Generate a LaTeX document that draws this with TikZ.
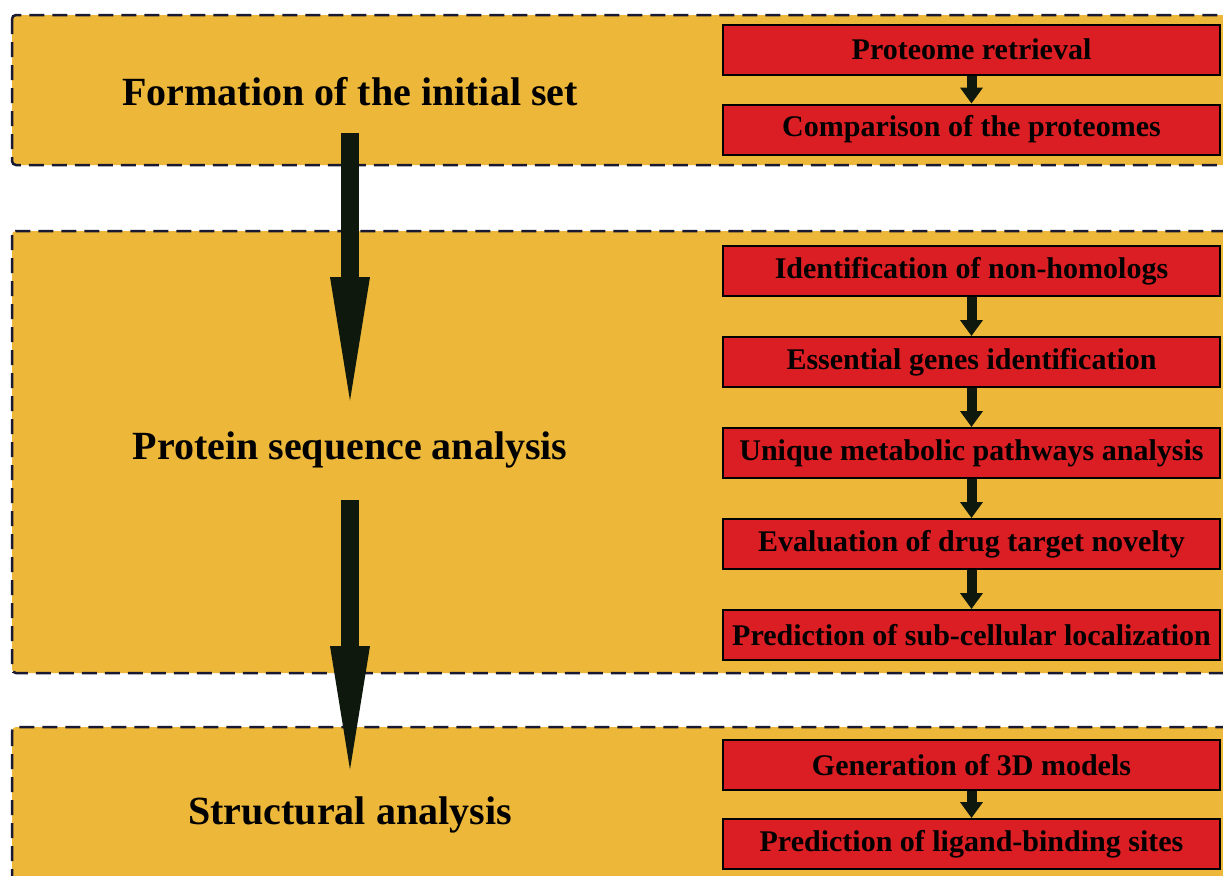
\documentclass[tikz,border=0pt]{standalone}
\usepackage{fontspec}
\setmainfont{Liberation Serif}
\usetikzlibrary{positioning,arrows.meta}
\definecolor{panelgold}{RGB}{237,184,58}
\definecolor{stepred}{RGB}{219,30,35}
\definecolor{arrowdark}{RGB}{14,24,12}
\definecolor{dashnavy}{RGB}{25,25,50}

\begin{document}
\begin{tikzpicture}[x=0.5pt, y=-0.5pt,
        panel/.style={draw=dashnavy, fill=panelgold, line width=1.25pt, dash pattern=on 7.5pt off 4pt, rounded corners=2pt},
        stagetitle/.style={font=\fontsize{20}{24}\selectfont\bfseries},
        stepbox/.style={draw=black, fill=stepred, line width=1pt, minimum width=248.5pt, minimum height=25pt, inner sep=0pt, font=\fontsize{15}{18}\selectfont\bfseries},
        smallarrow/.style={draw=arrowdark, line width=5pt, -{Triangle[width=11pt, length=8pt]}},
        bigarrow/.style={draw=arrowdark, line width=9pt, -{Triangle[width=17pt, length=72pt]}},
        node distance=19.5pt]
        \useasboundingbox (0,0) rectangle (1223,875);
        \clip (0,0) rectangle (1223,875);

        % Panels
        \draw[panel] (12,15) rectangle (1240,165);
        \draw[panel] (12,231) rectangle (1240,673);
        \draw[panel] (12,727) rectangle (1240,895);

        % Stage titles
        \node[stagetitle] (form) at (350,92) {Formation of the initial set};
        \node[stagetitle] (prot) at (350,450) {Protein sequence analysis};
        \node[stagetitle] (struct) at (350,815) {Structural analysis};

        % Steps of the first stage
        \node[stepbox] (retr) at (971.5,49.5) {Proteome retrieval};
        \node[stepbox, below=14pt of retr] (comp) {Comparison of the proteomes};

        % Steps of the second stage
        \node[stepbox] (nonhom) at (971.5,271) {Identification of non-homologs};
        \node[stepbox, below=of nonhom] (ess) {Essential genes identification};
        \node[stepbox, below=of ess] (path) {Unique metabolic pathways analysis};
        \node[stepbox, below=of path] (novel) {Evaluation of drug target novelty};
        \node[stepbox, below=of novel] (loc) {Prediction of sub-cellular localization};

        % Steps of the third stage
        \node[stepbox] (models) at (971.5,765) {Generation of 3D models};
        \node[stepbox, below=13.5pt of models] (sites) {Prediction of ligand-binding sites};

        % Small arrows
        \draw[smallarrow] (retr.south) -- (comp.north);
        \draw[smallarrow] (nonhom.south) -- (ess.north);
        \draw[smallarrow] (ess.south) -- (path.north);
        \draw[smallarrow] (path.south) -- (novel.north);
        \draw[smallarrow] (novel.south) -- (loc.north);
        \draw[smallarrow] (models.south) -- (sites.north);

        % Big arrows
        \draw[bigarrow, shorten <=20.5pt, shorten >=14.5pt] (form.center) -- (prot.center);
        \draw[bigarrow, shorten <=25pt, shorten >=12.5pt] (prot.center) -- (struct.center);

    \end{tikzpicture}
\end{document}
